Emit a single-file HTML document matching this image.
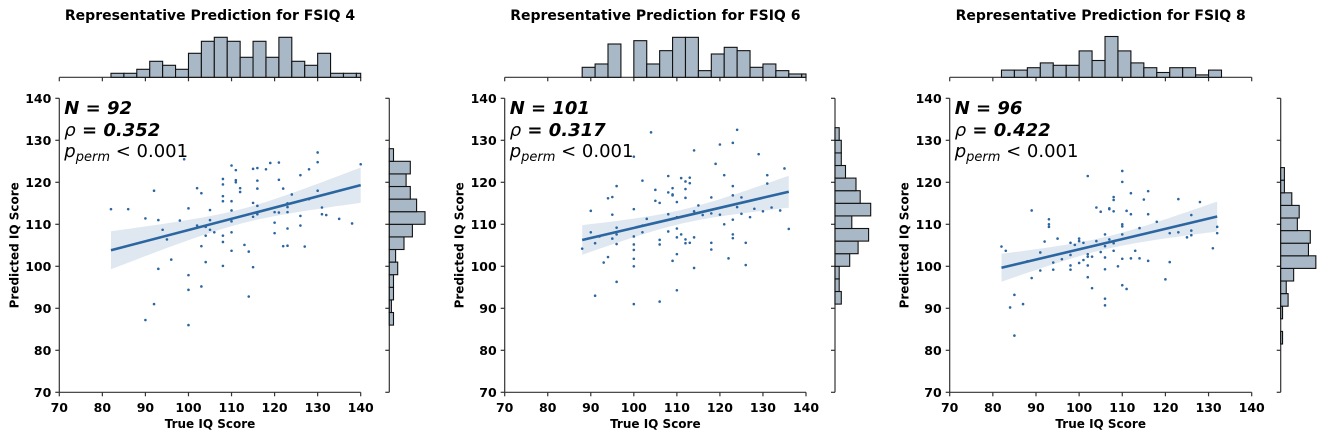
<!DOCTYPE html>
<html><head><meta charset="utf-8">
<style>
html,body{margin:0;padding:0;background:#fff;}
svg{display:block;font-family:"DejaVu Sans","Liberation Sans",sans-serif;}
.tick{font-size:12.5px;font-weight:bold;fill:#000;}
.ttl{font-size:14px;font-weight:bold;fill:#000;}
.axl{font-size:12px;font-weight:bold;fill:#000;}
.ann{font-family:"DejaVu Sans","Liberation Sans",sans-serif;font-size:18px;fill:#000;}
</style></head>
<body>
<svg id="chart" width="1325" height="438" viewBox="0 0 1325 438"></svg>
<script>
// ---- data ----
const titles = ["Representative Prediction for FSIQ 4","Representative Prediction for FSIQ 6","Representative Prediction for FSIQ 8"];
const nLabels = ["92","101","96"];
const rhoLabels = ["0.352","0.317","0.422"];
const xTicks = [70,80,90,100,110,120,130,140];
const yTicks = [70,80,90,100,110,120,130,140];

const p1x = [82,86,92,90,93,94,95,98,99,96,93,90,92,100,100,100,100,102,103,102,103,104,104,103,105,105,105,106,104,108,108,108,108,108,108,108,110,110,110,110,110,110,111,111,111,112,112,113,114,114,115,116,116,116,115,116,115,116,115,118,119,121,121,120,121,120,120,122,122,123,123,123,123,123,124,126,126,126,127,128,128,130,130,130,131,131,132,135,138,140];
const p1y = [113.6,113.6,118,111.4,111,108.7,106.4,110.9,125.5,101.6,99.4,87.2,91,113.8,97.9,94.4,86,118.6,117.4,109.7,104.8,107.3,101,95.2,113.4,111,108.7,108.1,109.4,120.8,119.5,116.7,115.5,107.3,105.8,100.1,124,115.5,113.3,110.7,108.1,103.7,122.9,120.5,120,118.6,117.7,105.1,103.5,92.8,123.2,123.4,120.4,118.5,115.1,114.4,111.8,112.4,99.8,123.1,124.6,124.7,120.6,112.9,112.8,110.4,107.9,118.5,104.8,104.9,115,114.1,112.9,109,117.1,121.7,112,109.7,104.7,123.1,116,127.1,124.8,118,114,112.4,112.2,111.3,110.2,124.3];
const p2x = [88,90,90,91,91,92,93,94,94,95,95,95,96,96,96,96,96,100,100,100,100,100,100,100,100,102,102,102,103,104,105,105,106,106,106,106,108,108,108,108,109,109,109,109,110,110,110,110,110,110,111,111,112,112,112,112,112,113,113,113,114,114,114,114,115,116,118,118,118,118,119,120,120,121,121,122,123,123,123,123,123,123,124,124,125,125,126,126,127,128,129,130,131,131,132,134,135,136];
const p2y = [104.2,113.2,108.1,105.5,93,107.1,100.9,102.2,116.2,116.5,112.3,106.6,119.1,109.2,107.6,105.3,96.3,113.6,107.1,105.2,103.9,101.8,100,91,126.1,120.4,109.7,108.1,111.3,131.9,118.2,115.6,115.1,106.3,105.2,91.6,121.5,117.6,112.4,108.3,118.6,117.1,116.9,101.3,115.3,111.7,109,106.9,102.9,94.3,121,107.6,120.2,118.4,116.3,106.4,105.5,121.1,119.8,105.6,127.6,113.1,106.9,99.6,114.5,112.2,116.4,112.6,105.6,104,124.4,129,112.3,121.7,110,101.9,129.4,119.1,116.9,111.1,107.6,106.7,132.5,114.1,116.4,112.5,105.6,100.3,111.7,113.7,126.7,113.1,121.7,119.7,114,113.3,123.3,108.9];
const p3x = [82,83,85,85,84,87,88,89,89,91,91,92,93,93,93,94,94,95,96,98,98,98,98,99,100,100,100,101,101,102,102,102,102,102,103,103,104,104,105,105,106,106,106,106,106,106,107,107,107,108,108,108,108,108,109,110,110,110,110,110,110,110,111,111,112,112,112,113,114,114,115,116,116,116,118,120,121,121,123,123,125,126,126,126,128,131,132,132];
const p3y = [104.7,103.7,93.2,83.5,90.2,91,101.2,113.3,97.2,103.3,99,105.9,111.2,110,109.4,100.9,99.2,106.6,101.7,105.6,102.7,100.2,99.2,105.1,106.6,106,100.8,105.6,101.5,121.5,102.9,102.3,100.2,97.4,102.3,94.8,114,106,113,103.4,107.6,104.8,102.1,99.3,92.3,90.7,113.8,113.6,106.4,116.5,115.8,113.1,105.5,103.7,100,122.7,120.1,110,109.5,107.6,101.8,95.5,113.2,94.6,117.4,112.4,101.9,103.7,109.1,101.9,115.9,117.9,112.4,101.3,110.6,96.9,107.9,101,116,108.1,106.9,112.2,108.5,107.4,115.3,104.3,109.4,107.9];

// top (x) histograms: bin starts + counts (bin width 3)
const h1Start = [82,85,88,91,94,97,100,103,106,109,112,115,118,121,124,127,130,133,136,139];
const h1Count = [1,1,2,4,3,2,6,9,10,9,5,9,5,10,4,3,6,1,1,1];
const h2Start = [88,91,94,97,100,103,106,109,112,115,118,121,124,127,130,133,136,139];
const h2Count = [3,4,10,0,11,4,8,12,12,2,7,9,8,3,4,2,1,1];
const h3Start = [82,85,88,91,94,97,100,103,106,109,112,115,118,121,124,127,130];
const h3Count = [3,3,4,6,5,5,11,7,17,11,6,4,2,4,4,1,3];
// right (y) histograms: bin starts + counts (bin width 3)
const r1Start = [86,89,92,95,98,101,104,107,110,113,116,119,122,125];
const r1Count = [2,1,2,2,4,3,7,11,17,13,10,8,10,2];
const r2Start = [91,94,97,100,103,106,109,112,115,118,121,124,127,130];
const r2Count = [3,2,2,7,11,16,8,17,12,10,5,3,3,2];
const r3Start = [81.5,84.5,87.5,90.5,93.5,96.5,99.5,102.5,105.5,108.5,111.5,114.5,117.5,120.5];
const r3Count = [1,0,1,4,3,7,19,15,16,9,10,6,2,2];

const panels = [
  {xs:p1x, ys:p1y, hs:h1Start, hc:h1Count, rs:r1Start, rc:r1Count},
  {xs:p2x, ys:p2y, hs:h2Start, hc:h2Count, rs:r2Start, rc:r2Count},
  {xs:p3x, ys:p3y, hs:h3Start, hc:h3Count, rs:r3Start, rc:r3Count}
];
// ---- layout (not data) ----
const geo = [
  {L:59.3,R:360.7,RA:389.3,tu:4.0,ru:2.1},
  {L:504.7,R:806,RA:835,tu:3.33,ru:2.1},
  {L:949.7,R:1251.7,RA:1280.7,tu:2.4,ru:1.85}
];
const T=98.3,B=392.3,HB=77.3;
const NS="http://www.w3.org/2000/svg";
const svg=document.getElementById('chart');
function mk(tag,attrs,parent){const e=document.createElementNS(NS,tag);for(const k in attrs)e.setAttribute(k,attrs[k]);(parent||svg).appendChild(e);return e;}

panels.forEach((p,i)=>{
  const g=geo[i];
  const sx=v=>g.L+(v-70)/70*(g.R-g.L);
  const sy=v=>B-(v-70)/70*(B-T);
  const grp=mk('g',{});
  
  
  const cx=(g.L+g.R)/2;
  const tt=mk('text',{x:cx,y:20,'text-anchor':'middle',class:'ttl'},grp);tt.textContent=titles[i];
  
  

  // CI band & regression
  const n=p.xs.length;let mx=0,my=0;for(let k=0;k<n;k++){mx+=p.xs[k];my+=p.ys[k];}mx/=n;my/=n;
  let sxx=0,sxy=0;for(let k=0;k<n;k++){sxx+=(p.xs[k]-mx)**2;sxy+=(p.xs[k]-mx)*(p.ys[k]-my);}
  const b=sxy/sxx,a=my-b*mx;let sse=0;for(let k=0;k<n;k++){sse+=(p.ys[k]-a-b*p.xs[k])**2;}
  const s=Math.sqrt(sse/(n-2));
  const x0=Math.min(...p.xs),x1=Math.max(...p.xs);
  const up=[],lo=[];
  for(let k=0;k<=40;k++){const x=x0+(x1-x0)*k/40;const h=1.98*s*Math.sqrt(1/n+(x-mx)**2/sxx);
    up.push(sx(x).toFixed(1)+','+sy(a+b*x+h).toFixed(1));lo.unshift(sx(x).toFixed(1)+','+sy(a+b*x-h).toFixed(1));}
  const band=mk('polygon',{points:up.concat(lo).join(' '),fill:'#2b66a0','fill-opacity':0.15},grp);
  
  
  for(let k=0;k<n;k++){
    const c=mk('circle',{cx:sx(p.xs[k]),cy:sy(p.ys[k]),r:1.3,fill:'#2b66a0'},grp);
    
    
  }
  const ln=mk('line',{x1:sx(x0),y1:sy(a+b*x0),x2:sx(x1),y2:sy(a+b*x1),stroke:'#2b66a0','stroke-width':2.6},grp);
  
  

  // axes
  mk('line',{x1:g.L,y1:T,x2:g.L,y2:B,stroke:'#333','stroke-width':1.2},grp);
  mk('line',{x1:g.L,y1:B,x2:g.R,y2:B,stroke:'#333','stroke-width':1.2},grp);
  xTicks.forEach(v=>{
    mk('line',{x1:sx(v),y1:B,x2:sx(v),y2:B+4,stroke:'#333','stroke-width':1.2},grp);
    const t=mk('text',{x:sx(v),y:412,'text-anchor':'middle',class:'tick'},grp);t.textContent=v;
    
    
    mk('line',{x1:sx(v),y1:HB,x2:sx(v),y2:HB+4,stroke:'#333','stroke-width':1.2},grp);
  });
  yTicks.forEach(v=>{
    mk('line',{x1:g.L-4,y1:sy(v),x2:g.L,y2:sy(v),stroke:'#333','stroke-width':1.2},grp);
    const t=mk('text',{x:g.L-8,y:sy(v)+4.5,'text-anchor':'end',class:'tick'},grp);t.textContent=v;
    
    
    mk('line',{x1:g.RA-4,y1:sy(v),x2:g.RA,y2:sy(v),stroke:'#333','stroke-width':1.2},grp);
  });
  const xl=mk('text',{x:cx,y:428,'text-anchor':'middle',class:'axl'},grp);xl.textContent='True IQ Score';
  
  
  const yl=mk('text',{x:0,y:0,'text-anchor':'middle',class:'axl',transform:`translate(${g.L-41},${(T+B)/2}) rotate(-90)`},grp);yl.textContent='Predicted IQ Score';
  
  

  // annotation
  const ax=g.L+5;
  const a1=mk('text',{x:ax,y:114,class:'ann','font-weight':'bold','font-style':'italic'},grp);a1.textContent='N = '+nLabels[i];
  
  
  const a2=mk('text',{x:ax,y:136,class:'ann'},grp);
  a2.innerHTML='<tspan font-style="italic">ρ</tspan><tspan font-weight="bold" font-style="italic"> = '+rhoLabels[i]+'</tspan>';
  
  
  const a3=mk('text',{x:ax,y:157,class:'ann'},grp);
  a3.innerHTML='<tspan font-style="italic">p</tspan><tspan font-style="italic" font-size="13" dy="4">perm</tspan><tspan dy="-4"> &lt; 0.001</tspan>';
  
  

  // top histogram
  mk('line',{x1:g.L,y1:HB,x2:g.R,y2:HB,stroke:'#333','stroke-width':1.2},grp);
  p.hs.forEach((v,k)=>{
    if(!p.hc[k])return;
    const xa=sx(v),xb=Math.min(sx(v+3),g.R),h=p.hc[k]*g.tu;
    const r=mk('rect',{x:xa,y:HB-h,width:xb-xa,height:h,fill:'#a8b8c6',stroke:'#111','stroke-width':1.1},grp);
    
    
  });
  // right histogram
  mk('line',{x1:g.RA,y1:T,x2:g.RA,y2:B,stroke:'#333','stroke-width':1.2},grp);
  p.rs.forEach((v,k)=>{
    if(!p.rc[k])return;
    const ya=sy(v+3),yb=sy(v),w=p.rc[k]*g.ru;
    const r=mk('rect',{x:g.RA,y:ya,width:w,height:yb-ya,fill:'#a8b8c6',stroke:'#111','stroke-width':1.1},grp);
    
    
  });
});
</script>
</body></html>
